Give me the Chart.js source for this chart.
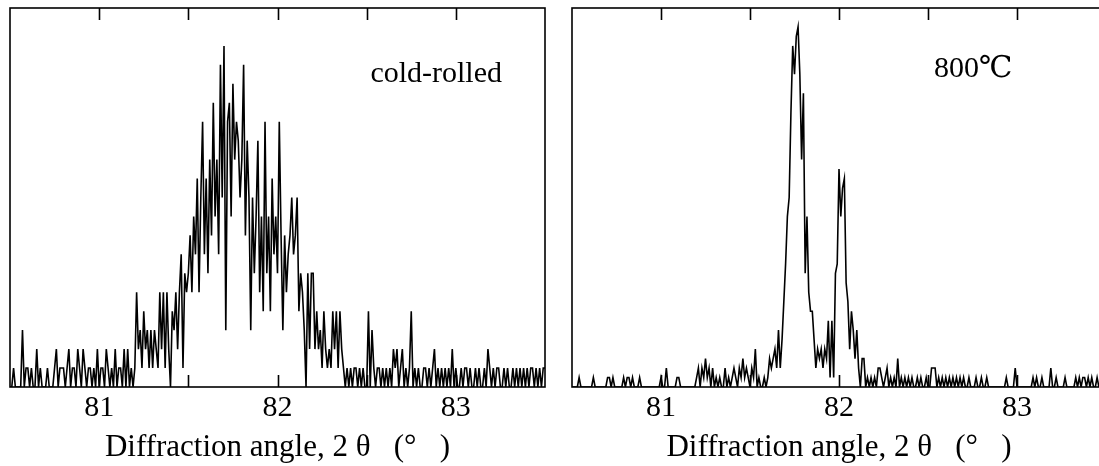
<!DOCTYPE html>
<html>
<head>
<meta charset="utf-8">
<script src="https://cdn.jsdelivr.net/npm/chart.js@4"></script>
<style>
  html, body { margin: 0; padding: 0; background: #fff; width: 1099px; height: 466px; overflow: hidden; position: relative; }
  .panel { position: absolute; top: 0; height: 466px; }
  #leftBox { left: 0; width: 555px; }
  #rightBox { left: 560px; width: 560px; }
</style>
</head>
<body>
<div class="panel" id="leftBox"><canvas id="coldChart"></canvas></div>
<div class="panel" id="rightBox"><canvas id="hotChart"></canvas></div>
<script>
// sampling grid of the scans (deg)
const angleStart = 80.5;
const angleStep = 0.01;
const xTickLabels = [81, 82, 83];

// counts, one value per 0.01 deg
const coldRolled = [
  0,0,1,0,0,0,0,3,0,1,
  1,0,1,0,0,2,0,1,0,0,
  0,1,0,0,0,1,2,0,1,1,
  1,0,1,2,0,1,1,0,2,1,
  0,2,1,0,1,1,0,1,0,2,
  0,1,1,0,2,1,0,1,0,2,
  0,1,1,0,2,0,2,0,1,0,
  1,5,2,3,1,4,2,3,1,3,
  1,3,2,1,5,2,5,1,5,2,
  0,4,3,5,2,5,7,1,6,5,
  6,8,5,9,7,11,5,10,14,7,
  11,6,12,8,15,9,12,7,17,10,
  18,3,14,15,9,16,12,14,13,10,
  12,17,8,13,10,3,10,6,9,13,
  5,9,4,14,6,9,4,11,7,9,
  6,14,8,3,8,5,7,8,10,7,
  8,10,4,6,5,3,0,6,2,6,
  6,2,4,2,3,1,4,2,1,2,
  1,4,2,4,1,4,2,1,0,1,
  0,1,0,1,1,0,1,0,1,0,
  0,4,0,3,1,0,1,1,0,1,
  0,1,0,1,0,2,1,2,0,1,
  2,0,1,0,1,4,0,1,0,1,
  0,0,1,1,0,1,0,1,2,0,
  1,0,1,0,1,0,1,0,2,0,
  1,0,0,1,0,1,1,0,1,0,
  0,1,0,1,0,0,1,0,2,1,
  0,1,0,1,1,0,0,1,0,1,
  0,0,1,0,1,0,1,0,1,0,
  1,0,1,1,0,1,0,1,0,1,
  1
];

const annealed800 = [
  0,0,0,0,1,0,0,0,0,0,
  0,0,1,0,0,0,0,0,0,0,
  1,1,0,1,0,0,0,0,0,1,
  0,1,1,0,1,0,0,0,1,0,
  0,0,0,0,0,0,0,0,0,0,
  1,0,0,2,0,0,0,0,0,1,
  1,0,0,0,0,0,0,0,0,0,
  1,2,0,2,1,3,1,2,0,2,
  0,1,0,1,0,0,2,0,1,0,
  1,2,1,0,2,1,3,1,2,1,
  0,2,1,4,0,1,0,0,1,0,
  1,3,2,3,4,2,6,2,5,9,
  13,18,20,29,36,33,37,38,33,24,
  31,12,18,10,8,8,5,2,4,3,
  4,2,4,3,7,1,7,1,12,13,
  23,18,21,22,11,9,4,8,6,3,
  6,2,0,3,3,0,1,0,1,0,
  1,0,2,2,1,0,1,2,0,1,
  0,1,0,3,0,1,0,1,0,1,
  0,1,0,0,1,0,1,0,0,1,
  0,0,2,2,2,0,1,0,1,0,
  1,0,1,0,1,0,1,0,1,0,
  1,0,0,1,0,0,0,1,0,0,
  1,0,0,1,0,0,0,0,0,0,
  0,0,0,0,1,0,0,0,0,2,
  0,0,0,0,0,0,0,0,0,1,
  0,1,0,0,1,0,0,0,0,2,
  0,0,1,0,0,0,0,1,0,0,
  0,0,0,1,0,1,0,1,1,0,
  1,0,1,0,0,1,0,0,1,0,
  0
];

const serif = '"Liberation Serif", "DejaVu Serif", "Times New Roman", serif';

function toPoints(counts) {
  return counts.map((c, i) => ({ x: +(angleStart + i * angleStep).toFixed(2), y: c }));
}

// box around the plot, inward ticks top and bottom, and the sample label
const framePlugin = {
  id: 'frame',
  afterDatasetsDraw(chart, args, opts) {
    const { ctx, chartArea: a } = chart;
    const x = chart.scales.x, y = chart.scales.y;
    ctx.save();
    ctx.strokeStyle = '#000';
    ctx.lineWidth = 1.6;
    ctx.strokeRect(a.left, a.top, a.right - a.left, a.bottom - a.top);
    ctx.beginPath();
    x.ticks.forEach(t => {
      const px = Math.round(x.getPixelForValue(t.value)) + 0.5;
      if (px <= a.left + 2 || px >= a.right - 2) return;
      ctx.moveTo(px, a.top);
      ctx.lineTo(px, a.top + 12);
      ctx.moveTo(px, a.bottom);
      ctx.lineTo(px, a.bottom - 12);
    });
    ctx.stroke();
    ctx.fillStyle = '#000';
    ctx.font = '30px ' + serif;
    ctx.textAlign = 'center';
    ctx.textBaseline = 'alphabetic';
    ctx.fillText(opts.text, x.getPixelForValue(opts.x), y.getPixelForValue(opts.y));
    ctx.restore();
  }
};

function makeChart(id, counts, yMax, padding, note) {
  const ctx = document.getElementById(id).getContext('2d');
  return new Chart(ctx, {
    type: 'line',
    data: {
      datasets: [{
        data: toPoints(counts),
        borderColor: '#000',
        borderWidth: 1.6,
        pointRadius: 0,
        tension: 0,
        fill: false
      }]
    },
    options: {
      responsive: true,
      maintainAspectRatio: false,
      animation: false,
      devicePixelRatio: 1,
      layout: { padding: padding },
      plugins: {
        legend: { display: false },
        tooltip: { enabled: false },
        frame: note
      },
      scales: {
        x: {
          type: 'linear',
          min: 80.5,
          max: 83.5,
          grid: { display: false, drawTicks: false },
          border: { display: false },
          ticks: {
            stepSize: 0.5,
            autoSkip: false,
            maxRotation: 0,
            padding: 6,
            color: '#000',
            font: { family: serif, size: 30, lineHeight: 1 },
            callback: v => xTickLabels.includes(v) ? String(v) : ''
          },
          title: {
            display: true,
            text: 'Diffraction angle, 2 θ   (°   )',
            color: '#000',
            font: { family: serif, size: 31, lineHeight: 1 },
            padding: { top: 3, bottom: 2 }
          }
        },
        y: {
          display: false,
          min: 0,
          max: yMax
        }
      }
    },
    plugins: [framePlugin]
  });
}

makeChart('coldChart', coldRolled, 20,
  { left: 10, right: 10, top: 8, bottom: 1 },
  { text: 'cold-rolled', x: 82.89, y: 16.1 });

makeChart('hotChart', annealed800, 40,
  { left: 12, right: 14, top: 8, bottom: 1 },
  { text: '800℃', x: 82.755, y: 32.7 });
</script>
</body>
</html>
